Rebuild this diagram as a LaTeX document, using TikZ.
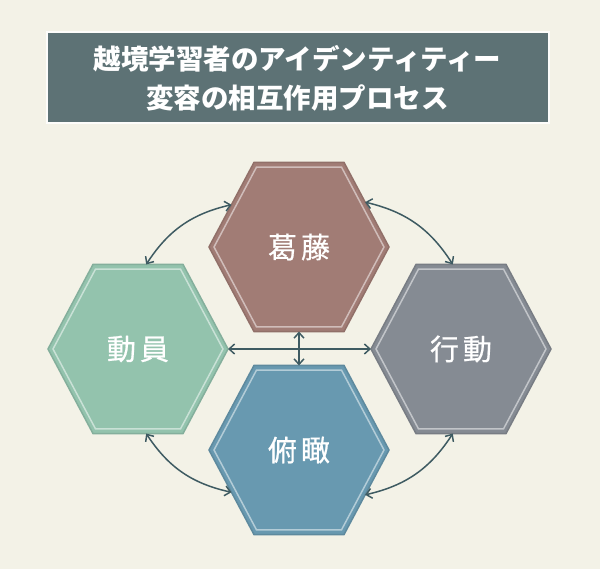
\documentclass[tikz,border=0pt]{standalone}
\usepackage{fontspec}
\setmainfont{Noto Sans CJK JP}
\newfontfamily\hexfont[FakeBold=0.7]{Noto Sans CJK JP}
\usetikzlibrary{shapes.geometric,arrows.meta}

\definecolor{bgcream}{HTML}{F3F2E7}
\definecolor{titlebg}{HTML}{5D7275}
\definecolor{linkcol}{HTML}{3E5B62}
\definecolor{katcol}{HTML}{A17C75}
\definecolor{doucol}{HTML}{93C3AD}
\definecolor{koucol}{HTML}{858B93}
\definecolor{fukcol}{HTML}{6899B0}

\tikzset{
  hexa/.style={regular polygon, regular polygon sides=6, minimum size=180pt,
    inner sep=0pt, outer sep=0pt, yscale=1.085, transform shape},
  hexline/.style={hexa, minimum size=170pt},
  hexlabel/.style={text=white, font=\hexfont\fontsize{29}{29}\selectfont},
  link/.style={linkcol, line width=1.5pt,
    {Straight Barb[length=5.5pt,width=10pt]}-{Straight Barb[length=5.5pt,width=10pt]}}
}

\begin{document}
\begin{tikzpicture}[x=1pt,y=-1pt]
  \fill[bgcream] (0,0) rectangle (600,569); % Background
  \useasboundingbox (0,0) rectangle (600,569);

  % Title box
  \node[fill=titlebg, draw=white!85!bgcream, line width=2pt, minimum width=502pt,
    minimum height=91pt, text=white, align=center,
    font=\bfseries\fontsize{27.5}{39}\selectfont] (title) at (297.5,78)
    {越境学習者のアイデンティティー\\変容の相互作用プロセス};

  % Four hexagons with inner line and label
  \foreach \name/\x/\y/\col/\txt in {kattou/299/247/katcol/葛\hspace{4pt}藤,
      douin/138/349/doucol/動\hspace{4pt}員,
      koudou/461/349/koucol/行\hspace{4pt}動,
      fukan/299/450/fukcol/俯\hspace{4pt}瞰} {
    \node[hexa, fill=\col, draw=\col!90!black, line width=1.5pt] (\name) at (\x,\y) {};
    \node[hexline, draw=\col!50!white, line width=1.5pt] (\name-in) at (\x,\y) {};
    \node[hexlabel] (\name-lb) at (\x,\y) {\txt};
  }

  % Curved links round the outside
  \draw[link] (kattou.150) to[bend right=22] (douin.84);
  \draw[link] (kattou.32) to[bend left=22] (koudou.96);
  \draw[link] (douin.276) to[bend right=22] (fukan.210);
  \draw[link] (fukan.328) to[bend right=22] (koudou.264);

  % Straight links in the middle
  \draw[link] (douin.0) -- (koudou.180);
  \draw[link] (kattou.270) -- (fukan.90);
\end{tikzpicture}
\end{document}
